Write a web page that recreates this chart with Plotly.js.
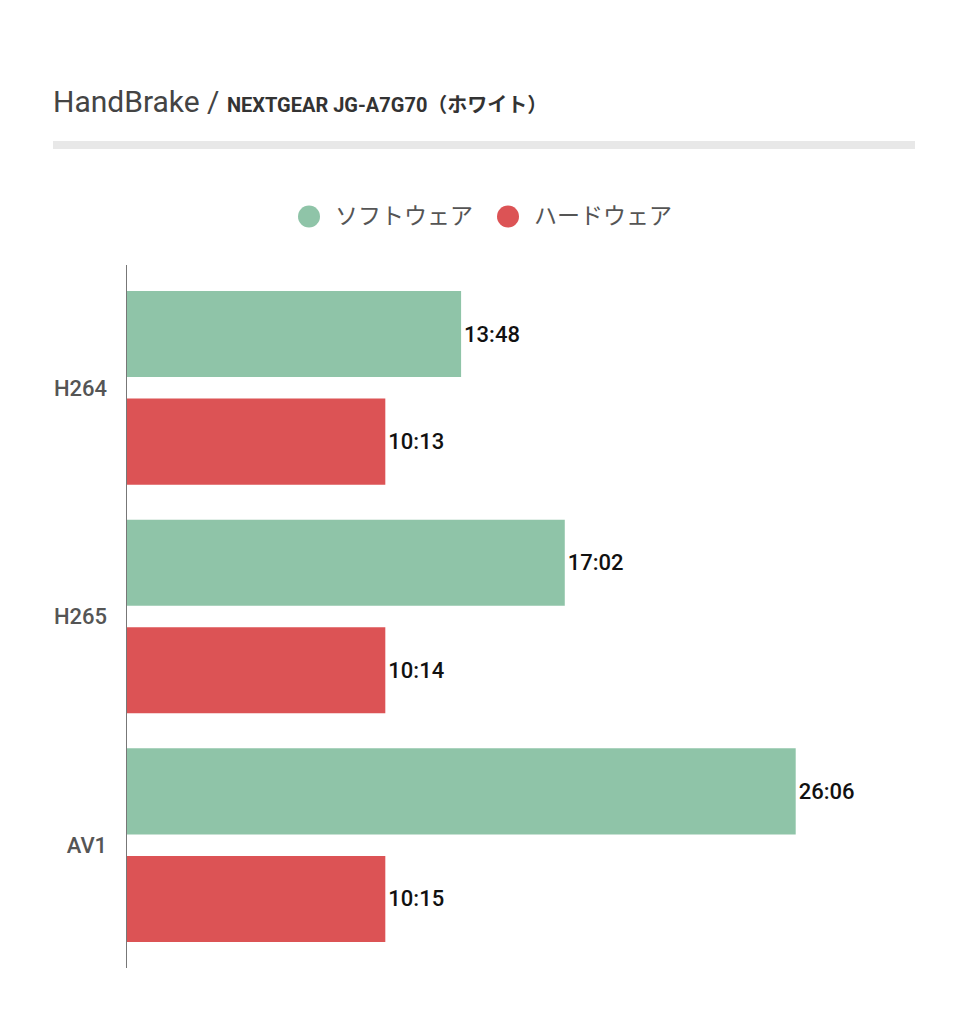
<!DOCTYPE html>
<html>
<head>
<meta charset="utf-8">
<script src="https://cdn.plot.ly/plotly-3.0.1.min.js"></script>
<style>
  html, body { margin: 0; padding: 0; background: #fff; }
  #graph { width: 968px; height: 1024px; }
</style>
</head>
<body>
<div id="graph"></div>
<script>
// encode times, bar lengths (minutes)
const categories = ['H264', 'H265', 'AV1'];
const seriesNames = ['ソフトウェア', 'ハードウェア'];
const softwareMin = [13.05, 17.10, 26.12];
const hardwareMin = [10.09, 10.09, 10.09];
const softwareLabels = ['13:48', '17:02', '26:06'];
const hardwareLabels = ['10:13', '10:14', '10:15'];
const seriesColors = ['#8fc4a8', '#dc5355'];

const FONT = "Roboto, 'Noto Sans CJK JP', sans-serif";

function barTrace(name, vals, labels, color){
    return {
        type: 'bar',
        orientation: 'h',
        name: name,
        y: categories,
        x: vals,
        text: labels,
        textposition: 'outside',
        cliponaxis: false,
        textfont: {family: FONT, size: 22, color: '#111', weight: 500},
        marker: {color: color},
        hoverinfo: 'none',
        showlegend: false
    };
}

var data = [
    barTrace(seriesNames[0], softwareMin, softwareLabels, seriesColors[0]),
    barTrace(seriesNames[1], hardwareMin, hardwareLabels, seriesColors[1])
];

// plot area: x 127..915, y 265..968
const L = 127, R = 915, T = 265, B = 968;
function px(x){ return (x - L) / (R - L); }
function py(y){ return (B - y) / (B - T); }

var shapes = [{
    type: 'rect', xref: 'paper', yref: 'paper',
    x0: px(53), x1: px(915), y0: py(149), y1: py(141),
    fillcolor: '#e8e8e8', line: {width: 0}
}];
var annotations = [];

// custom legend with round markers
let legendX = [309, 508];
for(let i = 0;i < seriesNames.length;i++){
    let cx = legendX[i];
    shapes.push({
        type: 'circle', xref: 'paper', yref: 'paper',
        x0: px(cx - 11), x1: px(cx + 11), y0: py(227.5), y1: py(205.5),
        fillcolor: seriesColors[i], line: {width: 0}
    });
    annotations.push({
        xref: 'paper', yref: 'paper',
        x: px(cx + 24), y: py(216.5),
        xanchor: 'left', yanchor: 'middle',
        text: seriesNames[i], showarrow: false,
        font: {family: FONT, size: 23, color: '#555'}
    });
}

var layout = {
    width: 968,
    height: 1024,
    paper_bgcolor: '#fff',
    plot_bgcolor: '#fff',
    margin: {l: L, r: 968 - R, t: T, b: 1024 - B},
    title: {
        text: "HandBrake / <b><span style='font-size:20px;color:#333'>NEXTGEAR JG-A7G70（ホワイト）</span></b>",
        font: {family: FONT, size: 30, color: '#444'},
        xref: 'container', yref: 'container',
        x: 53 / 968, xanchor: 'left',
        y: 1 - 101 / 1024, yanchor: 'middle'
    },
    barmode: 'group',
    bargap: 0.059,
    bargroupgap: 0.2,
    xaxis: {
        range: [0, 30.78],
        showticklabels: false,
        showgrid: false,
        zeroline: false,
        showline: false,
        fixedrange: true
    },
    yaxis: {
        type: 'category',
        range: [2.537, -0.537],
        showline: true,
        linecolor: '#777',
        linewidth: 1.5,
        showgrid: false,
        ticks: 'outside',
        ticklen: 14,
        tickcolor: 'rgba(0,0,0,0)',
        tickfont: {family: FONT, size: 22, color: '#555', weight: 500},
        fixedrange: true
    },
    shapes: shapes,
    annotations: annotations,
    showlegend: false
};

Plotly.newPlot('graph', data, layout, {displayModeBar: false, staticPlot: true});
</script>
</body>
</html>
